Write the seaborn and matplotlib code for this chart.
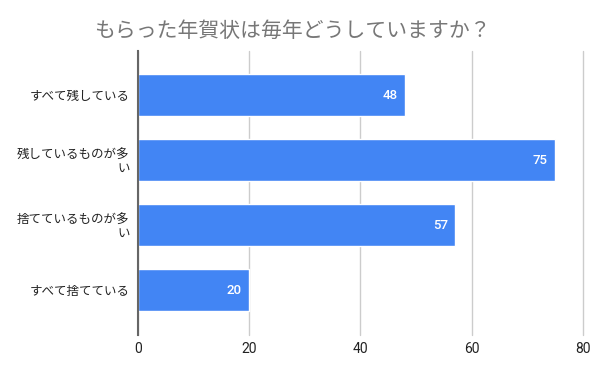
import pandas as pd
import matplotlib.pyplot as plt
import seaborn as sns

categories = ["すべて残している", "残しているものが多\nい", "捨てているものが多\nい", "すべて捨てている"]
values = [48, 75, 57, 20]
x_ticks = [0, 20, 40, 60, 80]

df = pd.DataFrame({"category": categories, "value": values})

sns.set_style("white")
plt.rcParams['font.family'] = ['Noto Sans CJK JP', 'DejaVu Sans']

fig = plt.figure(figsize=(6.02, 3.72), dpi=100)
ax = fig.add_axes([0.2292, 0.0995, 0.739, 0.7634])

sns.barplot(data=df, x="value", y="category", color="#4285F4", saturation=1,
            width=0.65, ax=ax, zorder=3)

# value labels inside the bar ends
for i, v in enumerate(values):
    ax.text(v - 1.3, i, str(v), color="white", ha="right", va="center",
            fontsize=9.5, fontweight=500, family=['Roboto', 'DejaVu Sans'], zorder=4)

ax.set_xlim(0, 80)
ax.set_ylim(3.69, -0.68)
ax.set_xticks(x_ticks)
ax.set_xticklabels([str(t) for t in x_ticks], fontsize=10, color="#222222",
                   family=['Roboto', 'DejaVu Sans'])
ax.tick_params(axis="y", labelsize=9, labelcolor="#222222", length=0, pad=6)
ax.tick_params(axis="x", length=0, pad=5)
for lab in ax.get_yticklabels():
    lab.set_horizontalalignment("right")
    lab.set_multialignment("right")
    lab.set_linespacing(1.0)

ax.grid(axis="x", color="#cccccc", linewidth=1, zorder=0)
for line in ax.get_xgridlines():
    line.set_clip_on(False)
for s in ["top", "right", "bottom"]:
    ax.spines[s].set_visible(False)
ax.spines["left"].set_color("#666666")
ax.spines["left"].set_linewidth(1.5)
ax.spines["left"].set_zorder(5)
ax.set_xlabel("")
ax.set_ylabel("")

fig.text(0.486, 0.918, "もらった年賀状は毎年どうしていますか？", ha="center", va="center",
         fontsize=15, color="#777777")

fig.savefig("out.png", dpi=100)
